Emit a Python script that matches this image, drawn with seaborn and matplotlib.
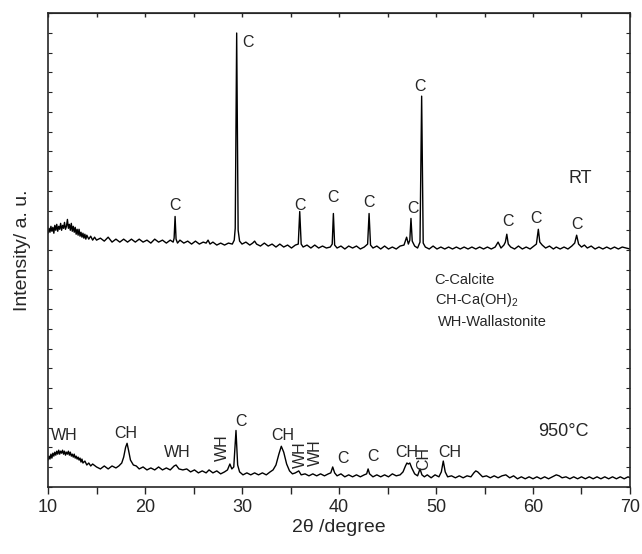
import numpy as np
import pandas as pd
import seaborn as sns
import matplotlib.pyplot as plt

# RT pattern (2theta, counts)
rt_x_low = [10.0, 10.1, 10.2, 10.3, 10.4, 10.5, 10.6, 10.7, 10.8, 10.9, 11.0, 11.1, 11.2, 11.3,
            11.4, 11.5, 11.6, 11.7, 11.8, 11.9, 12.0, 12.1, 12.2, 12.3, 12.4, 12.5, 12.6, 12.7,
            12.8, 12.9, 13.0, 13.1, 13.2, 13.3, 13.4, 13.5, 13.6, 13.7, 13.8, 13.9, 14.0, 14.2,
            14.4, 14.6, 14.8, 15.0]
rt_y_low = [257, 262, 258, 264, 259, 263, 257, 265, 260, 266, 259, 264, 261, 267,
            260, 265, 262, 268, 261, 264, 271, 262, 266, 260, 267, 259, 264, 258,
            263, 256, 261, 255, 261, 254, 258, 253, 257, 252, 256, 251, 255, 251,
            254, 250, 253, 250]
rt_x_high = [15.4, 15.8, 16.2, 16.6, 17.0, 17.4,
        17.8, 18.2, 18.6, 19.0, 19.4, 19.8, 20.2, 20.6, 21.0, 21.4, 21.8, 22.2, 22.6, 22.9, 23.0,
        23.1, 23.2, 23.35, 23.6, 24.0, 24.4, 24.8, 25.2, 25.6, 26.0, 26.3, 26.5, 26.7, 27.0, 27.4,
        27.8, 28.2, 28.6, 29.0, 29.2, 29.3, 29.45, 29.6, 29.75, 30.0, 30.4, 30.8, 31.1, 31.3, 31.5,
        31.9, 32.3, 32.7, 33.1, 33.5, 33.9, 34.3, 34.7, 35.1, 35.5, 35.8, 35.95, 36.1, 36.3, 36.7,
        37.1, 37.5, 37.9, 38.3, 38.7, 39.1, 39.3, 39.42, 39.55, 39.8, 40.2, 40.6, 41.0, 41.4, 41.8,
        42.2, 42.6, 42.95, 43.1, 43.25, 43.5, 43.9, 44.3, 44.7, 45.1, 45.5, 45.9, 46.3, 46.7, 46.97,
        47.15, 47.3, 47.42, 47.55, 47.8, 48.1, 48.35, 48.52, 48.68, 48.9, 49.3, 49.7, 50.1, 50.5,
        50.9, 51.3, 51.7, 52.1, 52.5, 52.9, 53.3, 53.7, 54.1, 54.5, 54.9, 55.3, 55.7, 56.1, 56.4,
        56.7, 57.0, 57.15, 57.3, 57.45, 57.7, 58.1, 58.5, 58.9, 59.3, 59.7, 60.1, 60.35, 60.55,
        60.7, 60.95, 61.3, 61.7, 62.1, 62.4, 62.8, 63.2, 63.6, 64.0, 64.3, 64.5, 64.7, 65.0, 65.3,
        65.6, 66.0, 66.4, 66.8, 67.2, 67.6, 68.0, 68.4, 68.8, 69.2, 69.6, 70.0]
rt_y_high = [252, 249, 253, 248, 251, 248,
        251, 248, 251, 248, 251, 248, 250, 247, 251, 248, 250, 247, 250, 248, 252,
        274, 251, 247, 250, 247, 249, 246, 249, 246, 248, 247, 250, 246, 248, 245,
        247, 245, 247, 246, 250, 262, 460, 260, 249, 246, 248, 245, 247, 249, 246,
        244, 247, 244, 246, 243, 246, 243, 245, 242, 245, 246, 279, 246, 243, 245,
        242, 245, 242, 244, 242, 243, 246, 277, 245, 242, 244, 241, 244, 242, 244,
        241, 243, 246, 277, 245, 242, 244, 241, 244, 241, 243, 241, 244, 245, 253,
        246, 250, 272, 249, 244, 242, 248, 396, 247, 243, 241, 244, 241, 243,
        241, 243, 241, 243, 241, 243, 241, 243, 241, 243, 241, 243, 241, 243, 248,
        242, 245, 248, 256, 246, 243, 241, 244, 241, 243, 241, 244, 246, 261,
        248, 245, 242, 244, 241, 243, 241, 243, 241, 244, 247, 255, 246, 243, 245,
        242, 244, 241, 243, 241, 243, 241, 243, 241, 243, 242, 241]
rt_x = rt_x_low + rt_x_high
rt_y = rt_y_low + rt_y_high

# 950 C pattern
ht_x_low = [10.0, 10.1, 10.2, 10.3, 10.4, 10.5, 10.6, 10.7, 10.8, 10.9, 11.0, 11.1, 11.2, 11.3,
            11.4, 11.5, 11.6, 11.7, 11.8, 11.9, 12.0, 12.1, 12.2, 12.3, 12.4, 12.5, 12.6, 12.7,
            12.8, 12.9, 13.0, 13.1, 13.2, 13.3, 13.4, 13.5, 13.6, 13.8, 14.0, 14.2, 14.4, 14.6,
            15.0]
ht_y_low = [27, 31, 28, 33, 29, 34, 31, 35, 32, 36, 33, 37, 33, 36,
            34, 37, 33, 36, 32, 35, 33, 36, 32, 35, 31, 33, 30, 33,
            29, 31, 28, 30, 27, 29, 25, 28, 24, 26, 22, 24, 21, 23,
            20]
ht_x_high = [15.4, 15.8, 16.2, 16.6, 17.0, 17.3,
        17.6, 17.8, 18.0, 18.15, 18.3, 18.5, 18.8, 19.1, 19.4, 19.8, 20.2, 20.6, 21.0, 21.4, 21.8,
        22.2, 22.6, 23.0, 23.2, 23.5, 23.9, 24.3, 24.7, 25.1, 25.5, 25.9, 26.3, 26.6, 27.0, 27.4,
        27.8, 28.2, 28.5, 28.75, 28.95, 29.15, 29.38, 29.55, 29.75, 30.1, 30.5, 30.9, 31.3, 31.7,
        32.1, 32.5, 32.9, 33.2, 33.5, 33.8, 34.05, 34.3, 34.6, 34.9, 35.2, 35.5, 35.85, 36.1, 36.5,
        36.9, 37.3, 37.7, 38.1, 38.5, 38.9, 39.15, 39.35, 39.55, 39.8, 40.2, 40.6, 41.0, 41.4, 41.8,
        42.2, 42.6, 42.85, 43.0, 43.15, 43.5, 43.9, 44.3, 44.7, 45.1, 45.5, 45.9, 46.3, 46.6, 46.85,
        47.0, 47.15, 47.3, 47.5, 47.8, 48.1, 48.35, 48.55, 48.8, 49.1, 49.5, 49.9, 50.3, 50.55,
        50.75, 50.95, 51.2, 51.6, 52.0, 52.4, 52.8, 53.2, 53.6, 53.9, 54.1, 54.3, 54.5, 54.8, 55.2,
        55.6, 56.0, 56.4, 56.8, 57.2, 57.6, 58.0, 58.4, 58.8, 59.2, 59.6, 60.0, 60.4, 60.8, 61.2,
        61.6, 62.0, 62.4, 62.7, 63.0, 63.4, 63.8, 64.2, 64.6, 65.0, 65.4, 65.8, 66.2, 66.6, 67.0,
        67.4, 67.8, 68.2, 68.6, 69.0, 69.4, 69.8, 70.0]
ht_y_high = [18, 21, 18, 21, 19, 21,
        24, 30, 40, 44, 37, 27, 22, 21, 18, 20, 17, 19, 17, 20, 17,
        19, 17, 21, 22, 18, 17, 18, 15, 17, 14, 16, 14, 17, 14, 16,
        13, 15, 17, 23, 18, 20, 57, 22, 15, 12, 14, 12, 14, 12,
        14, 12, 15, 17, 22, 33, 41, 35, 23, 16, 13, 14, 16, 12, 13,
        11, 13, 11, 13, 11, 13, 14, 20, 14, 11, 13, 10, 12, 10, 12,
        10, 12, 13, 18, 13, 10, 12, 10, 12, 10, 13, 11, 12, 15, 21,
        24, 23, 24, 19, 13, 11, 18, 12, 10, 12, 9, 12, 10, 15,
        26, 15, 10, 11, 9, 11, 9, 11, 10, 14, 16, 15, 13, 10, 11,
        9, 11, 9, 11, 12, 9, 11, 8, 10, 8, 10, 8, 10, 8, 10,
        8, 10, 12, 11, 9, 10, 8, 10, 8, 10, 8, 10, 8, 10, 8,
        10, 8, 10, 8, 10, 8, 10, 9]
ht_x = ht_x_low + ht_x_high
ht_y = ht_y_low + ht_y_high

# peak labels: (text, x, y) and (text, x, y, rotation)
rt_labels = [('C', 23.09, 285), ('C', 30.6, 450), ('C', 35.98, 285), ('C', 39.38, 293),
             ('C', 43.09, 288), ('C', 47.63, 282), ('C', 48.35, 406), ('C', 57.42, 269),
             ('C', 60.31, 272), ('C', 64.54, 266)]
ht_labels = [('WH', 11.65, 52, 0), ('CH', 18.04, 54, 0), ('WH', 23.3, 35, 0), ('WH', 27.97, 40, 90),
             ('C', 29.87, 66, 0), ('CH', 34.2, 52, 0), ('WH', 35.98, 32, 90), ('WH', 37.53, 34, 90),
             ('C', 40.38, 29, 0), ('C', 43.54, 31, 0), ('CH', 46.98, 35, 0), ('CH', 48.69, 29, 90),
             ('CH', 51.44, 35, 0)]

sns.set_style('ticks')
plt.rcParams['font.family'] = ['Liberation Sans', 'DejaVu Sans']
plt.rcParams['mathtext.fontset'] = 'custom'
plt.rcParams['mathtext.rm'] = 'Liberation Sans'

fig = plt.figure(figsize=(6.42, 5.54), dpi=100)
ax = fig.add_axes([0.0748, 0.1215, 0.9065, 0.8545])

df_rt = pd.DataFrame({'x': rt_x, 'y': rt_y})
df_ht = pd.DataFrame({'x': ht_x, 'y': ht_y})
sns.lineplot(data=df_rt, x='x', y='y', color='black', lw=1.0, estimator=None, ax=ax)
sns.lineplot(data=df_ht, x='x', y='y', color='black', lw=1.0, estimator=None, ax=ax)

for t, x, y in rt_labels:
    ax.text(x, y, t, ha='center', va='center', fontsize=11.5)
for t, x, y, r in ht_labels:
    ax.text(x, y, t, ha='center', va='center', fontsize=11.5, rotation=r)

ax.text(64.85, 312, 'RT', ha='center', va='center', fontsize=13)
ax.text(63.12, 56, '950°C', ha='center', va='center', fontsize=13)
ax.text(49.8, 210, 'C-Calcite', ha='left', va='center', fontsize=10.5)
ax.text(49.9, 189, 'CH-Ca(OH)$_{\\mathrm{2}}$', ha='left', va='center', fontsize=10.5)
ax.text(50.17, 167, 'WH-Wallastonite', ha='left', va='center', fontsize=10.5)

ax.set_xlim(10, 70)
ax.set_ylim(0, 480)
ax.set_xticks(np.arange(10, 71, 5))
ax.set_xticklabels([str(v) if v % 10 == 0 else '' for v in range(10, 71, 5)])
ax.set_yticks(np.arange(0, 481, 20))
ax.set_yticklabels([])
ax.tick_params(axis='x', direction='out', length=5, width=1, labelsize=13, pad=4)
ax.tick_params(axis='y', direction='in', length=3, width=0.8, left=True, right=True)

top = ax.secondary_xaxis('top')
top.set_xticks(np.arange(10, 71, 5))
top.tick_params(direction='in', length=3, width=1, labeltop=False)

for s in ax.spines.values():
    s.set_visible(True)
    s.set_linewidth(1.2)

ax.set_xlabel('2θ /degree', fontsize=14, labelpad=2)
ax.set_ylabel('Intensity/ a. u.', fontsize=14)
ax.yaxis.set_label_coords(-0.03, 0.5)

fig.savefig('out.png', dpi=100)
